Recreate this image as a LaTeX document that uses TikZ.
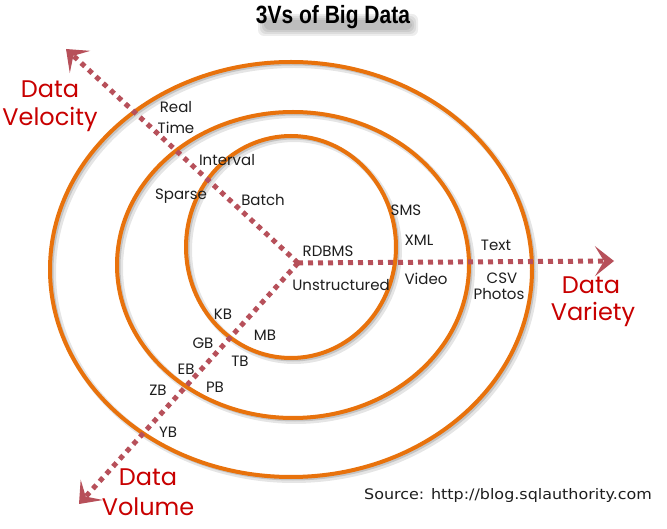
\documentclass[tikz,border=0pt]{standalone}
\usepackage{fontspec}
\setmainfont{Poppins}
\newfontfamily\titlefont{Liberation Sans}
\newfontfamily\srcfont{DejaVu Sans}
\usetikzlibrary{arrows.meta}
\definecolor{ringorange}{RGB}{232,114,12}
\definecolor{axisred}{RGB}{183,80,90}
\definecolor{labred}{RGB}{200,0,0}
\definecolor{labgray}{RGB}{30,30,30}
\tikzset{
  ring/.style={draw=ringorange, line width=4pt},
  ringshadow/.style={draw=black, line width=6pt, opacity=0.10},
  ringshadowb/.style={draw=black, line width=3pt, opacity=0.14},
  blurlayer/.style={fill=black, opacity=0.07, rounded corners=6pt},
  axisline/.style={draw=axisred, line width=5pt, dash pattern=on 5pt off 5pt, line cap=butt,
     -{Stealth[length=19pt,width=30pt,inset=9pt]}},
  lab/.style={font=\fontsize{15}{17}\selectfont, text=labgray, inner sep=0pt},
  vlab/.style={font=\fontsize{24}{27}\selectfont, text=labred, inner sep=0pt},
}
\begin{document}
\begin{tikzpicture}[x=1pt,y=-1pt]
\useasboundingbox (0,0) rectangle (667,529);
\fill[white] (0,0) rectangle (667,529);
% soft title shadow
\fill[blurlayer] (258,14) rectangle (418,36);
\fill[blurlayer] (260,16) rectangle (416,34);
\fill[blurlayer] (262,18) rectangle (414,32);
\fill[blurlayer] (264,20) rectangle (412,30);
\node (title) [font=\titlefont\bfseries\fontsize{25}{28}\selectfont, inner sep=0pt] at (333,17)
  {\scalebox{0.84}[1]{3Vs of Big Data}};
% ring shadows
\begin{scope}[shift={(3,3)}]
  \draw[ringshadow] (291,269.5) ellipse [x radius=241pt, y radius=207.5pt];
  \draw[ringshadow] (293,265) ellipse [x radius=176pt, y radius=153pt];
  \draw[ringshadow] (291,247) ellipse [x radius=105pt, y radius=111pt];
\end{scope}
\begin{scope}[shift={(2,2)}]
  \draw[ringshadowb] (291,269.5) ellipse [x radius=241pt, y radius=207.5pt];
  \draw[ringshadowb] (293,265) ellipse [x radius=176pt, y radius=153pt];
  \draw[ringshadowb] (291,247) ellipse [x radius=105pt, y radius=111pt];
\end{scope}
% rings
\draw[ring] (291,269.5) ellipse [x radius=241pt, y radius=207.5pt];
\draw[ring] (293,265) ellipse [x radius=176pt, y radius=153pt];
\draw[ring] (291,247) ellipse [x radius=105pt, y radius=111pt];
% axes
\coordinate (ctr) at (298,263);
\coordinate (veltip) at (66,49);
\coordinate (vartip) at (614,261);
\coordinate (voltip) at (79,504);
\draw[axisline] (ctr) -- (veltip);
\draw[axisline] (ctr) -- (vartip);
\draw[axisline] (ctr) -- (voltip);
% axis labels
\node (velA) [vlab] at (50,89) {Data};
\node (velB) [vlab] at (50,119) {Velocity};
\node (varA) [vlab] at (591,285) {Data};
\node (varB) [vlab] at (593,314) {Variety};
\node (volA) [vlab] at (148,477) {Data};
\node (volB) [vlab] at (148,507) {Volume};
% velocity labels
\node (real) [lab] at (176,107) {Real};
\node (time) [lab] at (176,128) {Time};
\node (interval) [lab] at (227,160) {Interval};
\node (sparse) [lab] at (181,196) {Sparse};
\node (batch) [lab] at (263,200) {Batch};
% variety labels
\node (rdbms) [lab] at (328,251) {RDBMS};
\node (unstr) [lab] at (341,285) {Unstructured};
\node (sms) [lab] at (406,210) {SMS};
\node (xml) [lab] at (419,240) {XML};
\node (video) [lab] at (426,279) {Video};
\node (text) [lab] at (496,245) {Text};
\node (csv) [lab] at (502,278) {CSV};
\node (photos) [lab] at (499,294) {Photos};
% volume labels
\node (kb) [lab] at (223,314) {KB};
\node (mb) [lab] at (265,335) {MB};
\node (gb) [lab] at (203,343) {GB};
\node (tb) [lab] at (240,361) {TB};
\node (eb) [lab] at (186,369) {EB};
\node (pb) [lab] at (215,387) {PB};
\node (zb) [lab] at (158,390) {ZB};
\node (yb) [lab] at (168,432) {YB};
% source
\node (src) [font=\srcfont\fontsize{14.5}{17}\selectfont, text=labgray, inner sep=0pt] at (508,495) {\scalebox{1.1}[1]{Source: http://blog.sqlauthority.com}};
\end{tikzpicture}
\end{document}
